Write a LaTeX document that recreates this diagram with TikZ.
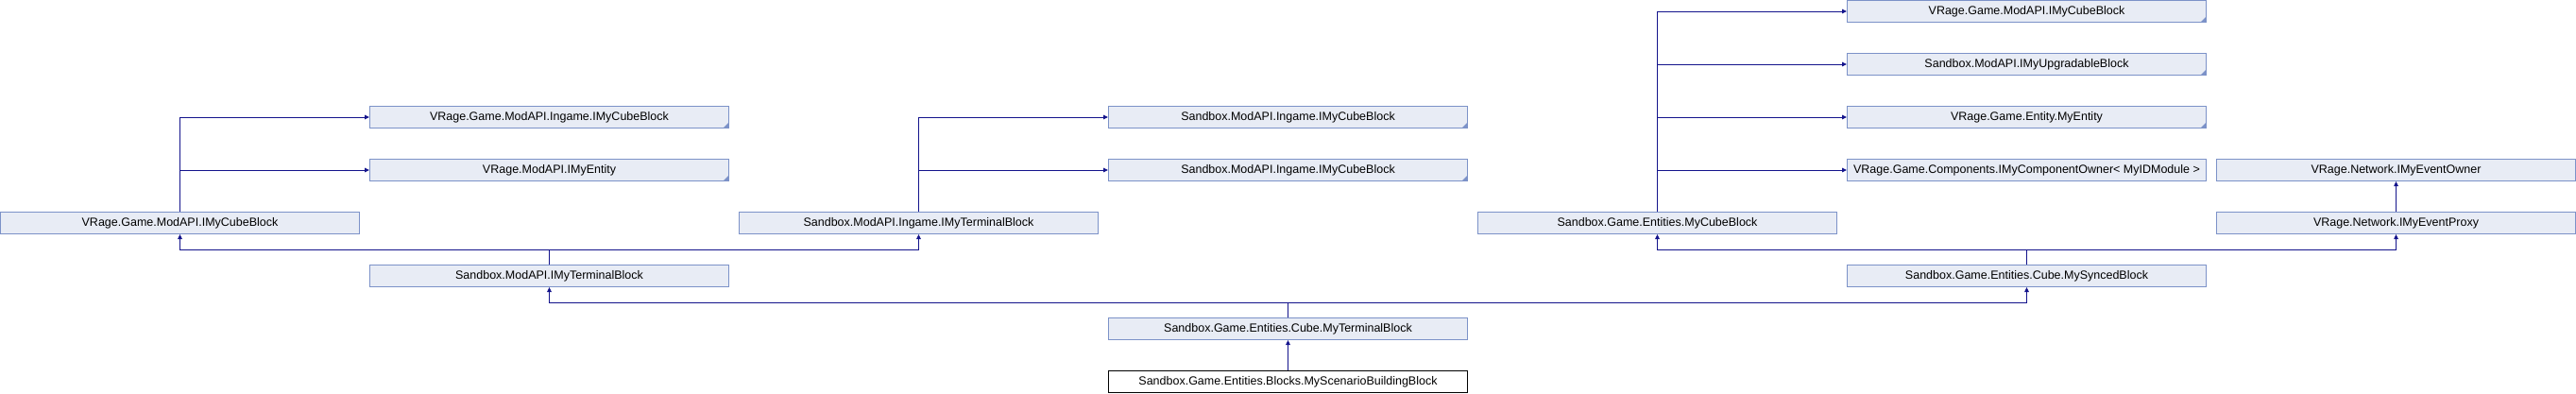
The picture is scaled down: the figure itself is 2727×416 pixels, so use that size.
\documentclass[tikz,border=0pt]{standalone}
\usepackage{fontspec}
\setmainfont{Liberation Sans}
\usetikzlibrary{arrows.meta,calc}
\definecolor{boxfill}{RGB}{232,236,245}
\definecolor{boxline}{RGB}{124,146,200}
\definecolor{edgecol}{RGB}{20,20,140}
\tikzset{
  cls/.style={draw=boxline, fill=boxfill, line width=1pt, minimum width=380pt,
    minimum height=23pt, inner sep=0pt, anchor=center,
    font=\fontsize{12.5}{14}\selectfont},
  leaf/.style={cls, draw=black, fill=white},
  inh/.style={draw=edgecol, line width=1pt, -{Triangle[length=5pt,width=4.5pt]}},
  trunc/.style={fill=boxline, draw=none}
}
\begin{document}
\begin{tikzpicture}[x=1pt,y=-1pt]
\useasboundingbox (0,0) rectangle (2727,416);
% row 0
\node[cls] (n05) at (2145.5,12) {VRage.Game.ModAPI.IMyCubeBlock};
% row 1
\node[cls] (n15) at (2145.5,68) {Sandbox.ModAPI.IMyUpgradableBlock};
% row 2
\node[cls] (n21) at (581.5,124) {VRage.Game.ModAPI.Ingame.IMyCubeBlock};
\node[cls] (n23) at (1363.5,124) {Sandbox.ModAPI.Ingame.IMyCubeBlock};
\node[cls] (n25) at (2145.5,124) {VRage.Game.Entity.MyEntity};
% row 3
\node[cls] (n31) at (581.5,180) {VRage.ModAPI.IMyEntity};
\node[cls] (n33) at (1363.5,180) {Sandbox.ModAPI.Ingame.IMyCubeBlock};
\node[cls] (n35) at (2145.5,180) {VRage.Game.Components.IMyComponentOwner< MyIDModule >};
\node[cls] (n36) at (2536.5,180) {VRage.Network.IMyEventOwner};
% row 4
\node[cls] (n40) at (190.5,236) {VRage.Game.ModAPI.IMyCubeBlock};
\node[cls] (n42) at (972.5,236) {Sandbox.ModAPI.Ingame.IMyTerminalBlock};
\node[cls] (n44) at (1754.5,236) {Sandbox.Game.Entities.MyCubeBlock};
\node[cls] (n46) at (2536.5,236) {VRage.Network.IMyEventProxy};
% row 5
\node[cls] (n51) at (581.5,292) {Sandbox.ModAPI.IMyTerminalBlock};
\node[cls] (n55) at (2145.5,292) {Sandbox.Game.Entities.Cube.MySyncedBlock};
% row 6
\node[cls] (n63) at (1363.5,348) {Sandbox.Game.Entities.Cube.MyTerminalBlock};
% row 7
\node[leaf] (n73) at (1363.5,404) {Sandbox.Game.Entities.Blocks.MyScenarioBuildingBlock};

% truncation markers
\foreach \n in {n05,n15,n21,n23,n25,n31,n33}{
  \fill[trunc] ($(\n.south east)+(-1,-1)$) -- ++(-5,0) -- ++(5,-5) -- cycle;
}

% edges
\draw[inh] (n40.north) |- (n21.west);
\draw[inh] (n40.north) |- (n31.west);
\draw[inh] (n42.north) |- (n23.west);
\draw[inh] (n42.north) |- (n33.west);
\draw[inh] (n44.north) |- (n05.west);
\draw[inh] (n44.north) |- (n15.west);
\draw[inh] (n44.north) |- (n25.west);
\draw[inh] (n44.north) |- (n35.west);
\draw[inh] (n46.north) -- (n36.south);

\draw[inh] (n51.north) -- (n51.north |- 0,264.5) -| (n40.south);
\draw[inh] (n51.north) -- (n51.north |- 0,264.5) -| (n42.south);
\draw[inh] (n55.north) -- (n55.north |- 0,264.5) -| (n44.south);
\draw[inh] (n55.north) -- (n55.north |- 0,264.5) -| (n46.south);
\draw[inh] (n63.north) -- (n63.north |- 0,320.5) -| (n51.south);
\draw[inh] (n63.north) -- (n63.north |- 0,320.5) -| (n55.south);
\draw[inh] (n73.north) -- (n63.south);
\end{tikzpicture}
\end{document}
